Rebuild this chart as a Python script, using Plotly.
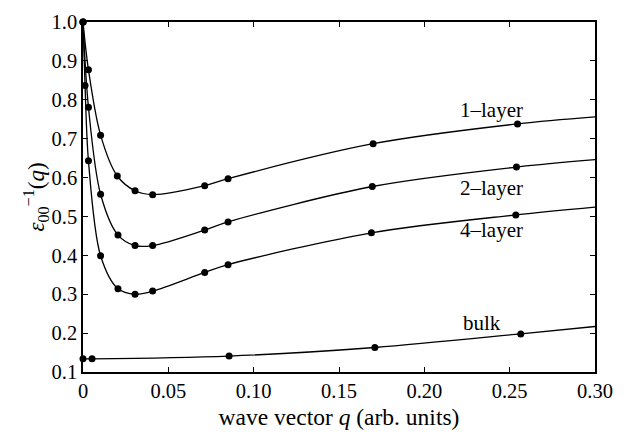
import plotly.graph_objects as go

# Inverse dielectric function eps_00^-1(q) for slabs of different thickness
q_1layer = [0.0, 0.0032, 0.0103, 0.0201, 0.0305, 0.0408, 0.0713, 0.085, 0.170, 0.2546]
eps_1layer = [1.0, 0.877, 0.709, 0.604, 0.566, 0.556, 0.579, 0.597, 0.687, 0.738]

q_2layer = [0.0, 0.0032, 0.0103, 0.0205, 0.0305, 0.0408, 0.0713, 0.085, 0.1695, 0.254]
eps_2layer = [1.0, 0.781, 0.557, 0.452, 0.425, 0.425, 0.465, 0.486, 0.577, 0.627]

q_4layer = [0.0, 0.0012, 0.0032, 0.0103, 0.0205, 0.0305, 0.0408, 0.0713, 0.085, 0.169, 0.2536]
eps_4layer = [1.0, 0.837, 0.643, 0.399, 0.314, 0.300, 0.308, 0.356, 0.376, 0.458, 0.504]

q_bulk = [0.0, 0.0053, 0.0856, 0.171, 0.2565]
eps_bulk = [0.134, 0.134, 0.141, 0.163, 0.198]

# Value of each curve at the right edge of the plot (q = 0.30)
q_end = 0.30
eps_end = {"1-layer": 0.756, "2-layer": 0.646, "4-layer": 0.524, "bulk": 0.217}

# Curve labels: text, q position, eps position
label_text = ["1–layer", "2–layer", "4–layer", "bulk"]
label_q = [0.2393, 0.2393, 0.2393, 0.2336]
label_eps = [0.774, 0.574, 0.465, 0.225]

x_ticks = [0, 0.05, 0.10, 0.15, 0.20, 0.25, 0.30]
x_ticktext = ["0", "0.05", "0.10", "0.15", "0.20", "0.25", "0.30"]
y_ticks = [0.1, 0.2, 0.3, 0.4, 0.5, 0.6, 0.7, 0.8, 0.9, 1.0]

series = [
    ("1-layer", q_1layer, eps_1layer),
    ("2-layer", q_2layer, eps_2layer),
    ("4-layer", q_4layer, eps_4layer),
    ("bulk", q_bulk, eps_bulk),
]

FONT = "Liberation Serif, Times New Roman, serif"

fig = go.Figure()
for name, qs, es in series:
    fig.add_trace(go.Scatter(
        x=qs + [q_end], y=es + [eps_end[name]],
        mode="lines", line=dict(color="black", width=1.3, shape="spline", smoothing=0.9),
        showlegend=False, hoverinfo="skip",
    ))
    fig.add_trace(go.Scatter(
        x=qs, y=es, mode="markers",
        marker=dict(color="black", size=7),
        cliponaxis=False, showlegend=False, name=name,
    ))

for t, xq, ye in zip(label_text, label_q, label_eps):
    fig.add_annotation(x=xq, y=ye, text=t, showarrow=False,
                       font=dict(family=FONT, size=21, color="black"),
                       xanchor="center", yanchor="middle")

axis_common = dict(
    showline=True, linecolor="black", linewidth=1.5, mirror="ticks",
    ticks="inside", ticklen=5, tickwidth=1, tickcolor="black",
    showgrid=False, zeroline=False,
    tickfont=dict(family=FONT, size=20.5, color="black"),
)

fig.update_xaxes(
    range=[0, 0.30], tickvals=x_ticks, ticktext=x_ticktext,
    title=dict(text="wave vector <i>q</i> (arb. units)",
               font=dict(family=FONT, size=23.5, color="black"), standoff=7),
    **axis_common,
)
fig.update_yaxes(
    range=[0.1, 1.0], tickvals=y_ticks, tickformat=".1f",
    title=dict(text="<i>ε</i><sub>00</sub><sup>−1</sup>(<i>q</i>)",
               font=dict(family=FONT, size=23, color="black"), standoff=0),
    **axis_common,
)

fig.update_layout(
    width=624, height=437,
    margin=dict(l=83, r=20, t=11, b=64),
    plot_bgcolor="white", paper_bgcolor="white",
    font=dict(family=FONT, size=20, color="black"),
)

fig.write_html("out.html")
